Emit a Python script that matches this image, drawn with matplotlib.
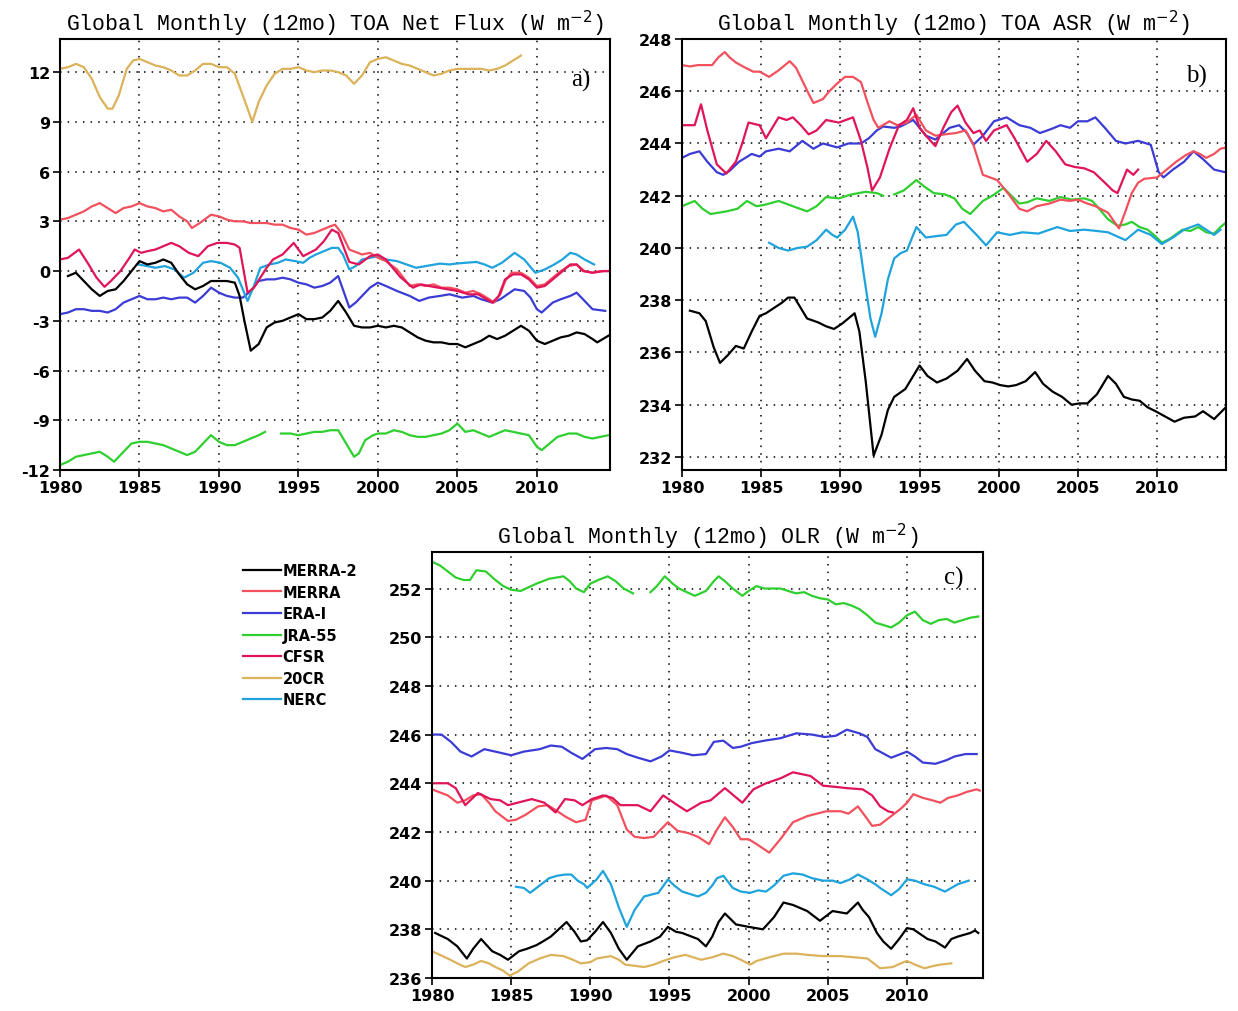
import matplotlib
matplotlib.use("Agg")
import matplotlib.pyplot as plt
import numpy as np

NAN = float("nan")

# ---------------- DATA (year, value) ----------------
# Panel a: TOA Net Flux
a_merra2 = [(1980.5,-0.3),(1981.0,-0.1),(1981.5,-0.6),(1982.0,-1.1),(1982.5,-1.5),(1983.0,-1.2),(1983.5,-1.1),(1984.0,-0.6),(1984.5,0.0),(1985.0,0.6),(1985.5,0.4),(1986.0,0.5),(1986.5,0.7),(1987.0,0.5),(1987.5,-0.2),(1988.0,-0.8),(1988.5,-1.1),(1989.0,-0.9),(1989.5,-0.6),(1990.0,-0.6),(1990.5,-0.6),(1991.0,-0.7),(1991.3,-1.5),(1991.6,-3.0),(1992.0,-4.8),(1992.5,-4.4),(1993.0,-3.4),(1993.5,-3.1),(1994.0,-3.0),(1994.5,-2.8),(1995.0,-2.6),(1995.5,-2.9),(1996.0,-2.9),(1996.5,-2.8),(1997.0,-2.4),(1997.5,-1.8),(1998.0,-2.5),(1998.5,-3.3),(1999.0,-3.4),(1999.5,-3.4),(2000.0,-3.3),(2000.5,-3.4),(2001.0,-3.3),(2001.5,-3.4),(2002.0,-3.7),(2002.5,-4.0),(2003.0,-4.2),(2003.5,-4.3),(2004.0,-4.3),(2004.5,-4.4),(2005.0,-4.4),(2005.5,-4.6),(2006.0,-4.4),(2006.5,-4.2),(2007.0,-3.9),(2007.5,-4.1),(2008.0,-3.9),(2008.5,-3.6),(2009.0,-3.3),(2009.5,-3.6),(2010.0,-4.2),(2010.5,-4.4),(2011.0,-4.2),(2011.5,-4.0),(2012.0,-3.9),(2012.5,-3.7),(2013.0,-3.8),(2013.5,-4.1),(2013.8,-4.3),(2014.5,-3.9)]
a_merra = [(1980.0,3.1),(1980.5,3.2),(1981.0,3.4),(1981.5,3.6),(1982.0,3.9),(1982.5,4.1),(1983.0,3.8),(1983.5,3.5),(1984.0,3.8),(1984.5,3.9),(1985.0,4.1),(1985.5,3.9),(1986.0,3.8),(1986.5,3.6),(1987.0,3.7),(1987.5,3.3),(1988.0,3.0),(1988.3,2.6),(1988.8,2.9),(1989.5,3.4),(1990.0,3.3),(1990.5,3.1),(1991.0,3.0),(1991.5,3.0),(1992.0,2.9),(1992.5,2.9),(1993.0,2.9),(1993.5,2.8),(1994.0,2.8),(1994.5,2.6),(1995.0,2.5),(1995.5,2.2),(1996.0,2.3),(1996.5,2.5),(1997.0,2.7),(1997.3,2.8),(1997.7,2.3),(1998.2,1.3),(1999.0,1.0),(1999.5,1.1),(2000.0,0.8),(2000.5,0.6),(2001.2,0.1),(2002.0,-0.9),(2002.5,-0.8),(2003.0,-0.9),(2003.5,-0.8),(2004.0,-1.0),(2004.5,-1.0),(2005.0,-1.1),(2005.5,-1.3),(2006.0,-1.2),(2006.5,-1.4),(2007.0,-1.7),(2007.3,-1.9),(2007.7,-1.4),(2008.0,-0.6),(2008.4,-0.1),(2009.0,-0.1),(2009.5,-0.4),(2010.0,-0.9),(2010.5,-0.8),(2011.0,-0.4),(2011.5,0.0),(2012.0,0.3),(2012.5,0.4),(2013.0,0.0),(2013.5,-0.1),(2014.0,0.0),(2014.5,0.0)]
a_erai = [(1980.0,-2.6),(1980.5,-2.5),(1981.0,-2.3),(1981.5,-2.3),(1982.0,-2.4),(1982.5,-2.4),(1983.0,-2.5),(1983.5,-2.3),(1984.0,-1.9),(1984.5,-1.7),(1985.0,-1.5),(1985.5,-1.7),(1986.0,-1.7),(1986.5,-1.6),(1987.0,-1.7),(1987.5,-1.6),(1988.0,-1.6),(1988.5,-1.9),(1989.0,-1.5),(1989.5,-1.0),(1990.0,-1.3),(1990.5,-1.5),(1991.0,-1.6),(1991.5,-1.6),(1992.0,-1.2),(1992.5,-0.6),(1993.0,-0.5),(1993.5,-0.5),(1994.0,-0.4),(1994.5,-0.5),(1995.0,-0.7),(1995.5,-0.8),(1996.0,-1.0),(1996.5,-0.9),(1997.0,-0.7),(1997.5,-0.3),(1998.2,-2.2),(1998.6,-1.9),(1999.5,-1.0),(2000.0,-0.7),(2000.5,-0.9),(2001.2,-1.2),(2002.0,-1.5),(2002.6,-1.8),(2003.2,-1.6),(2003.9,-1.5),(2004.5,-1.4),(2005.3,-1.6),(2006.0,-1.5),(2006.5,-1.7),(2007.2,-1.9),(2007.7,-1.7),(2008.6,-1.1),(2009.2,-1.2),(2009.6,-1.6),(2010.0,-2.3),(2010.3,-2.5),(2011.0,-1.9),(2011.5,-1.7),(2012.1,-1.5),(2012.5,-1.3),(2013.0,-1.8),(2013.5,-2.3),(2014.3,-2.4)]
a_jra55 = [(1980.0,-11.7),(1980.5,-11.5),(1981.0,-11.2),(1981.5,-11.1),(1982.0,-11.0),(1982.5,-10.9),(1983.0,-11.2),(1983.4,-11.5),(1984.0,-10.9),(1984.5,-10.4),(1985.0,-10.3),(1985.5,-10.3),(1986.0,-10.4),(1986.5,-10.5),(1987.0,-10.7),(1987.5,-10.9),(1988.0,-11.1),(1988.5,-10.9),(1989.0,-10.4),(1989.5,-9.9),(1990.0,-10.3),(1990.5,-10.5),(1991.0,-10.5),(1991.5,-10.3),(1992.0,-10.1),(1992.5,-9.9),(1992.9,-9.7),(1993.3,NAN),(1993.9,-9.8),(1994.5,-9.8),(1995.0,-9.9),(1995.5,-9.8),(1996.0,-9.7),(1996.5,-9.7),(1997.0,-9.6),(1997.5,-9.6),(1998.0,-10.4),(1998.5,-11.2),(1998.8,-11.0),(1999.2,-10.2),(1999.7,-9.9),(2000.0,-9.8),(2000.5,-9.8),(2001.0,-9.6),(2001.5,-9.7),(2002.0,-9.9),(2002.5,-10.0),(2003.0,-10.0),(2003.5,-9.9),(2004.0,-9.8),(2004.5,-9.6),(2005.0,-9.2),(2005.5,-9.7),(2006.0,-9.6),(2006.5,-9.8),(2007.0,-10.0),(2007.5,-9.8),(2008.0,-9.6),(2008.5,-9.7),(2009.0,-9.8),(2009.5,-9.9),(2010.0,-10.6),(2010.3,-10.8),(2010.8,-10.4),(2011.3,-10.0),(2012.0,-9.8),(2012.5,-9.8),(2013.0,-10.0),(2013.5,-10.1),(2014.0,-10.0),(2014.5,-9.9)]
a_cfsr = [(1980.0,0.7),(1980.5,0.8),(1981.2,1.3),(1981.8,0.4),(1982.3,-0.4),(1982.8,-0.95),(1983.2,-0.6),(1983.8,0.0),(1984.3,0.7),(1984.7,1.3),(1985.1,1.1),(1985.5,1.2),(1986.0,1.3),(1986.5,1.5),(1987.0,1.7),(1987.5,1.5),(1988.1,1.1),(1988.7,0.9),(1989.3,1.5),(1989.9,1.7),(1990.5,1.7),(1991.0,1.6),(1991.3,1.4),(1991.8,-1.3),(1992.2,-1.0),(1992.6,-0.4),(1993.0,0.2),(1993.4,0.7),(1994.0,1.0),(1994.7,1.7),(1995.3,0.9),(1996.1,1.3),(1996.6,1.8),(1997.1,2.5),(1997.5,2.3),(1998.2,0.55),(1998.8,0.4),(1999.5,0.9),(2000.0,1.0),(2000.5,0.7),(2001.4,-0.35),(2002.2,-1.0),(2002.7,-0.8),(2003.2,-0.9),(2003.8,-1.0),(2004.4,-1.1),(2005.0,-1.2),(2005.7,-1.4),(2006.3,-1.4),(2007.2,-1.9),(2007.6,-1.5),(2008.0,-0.5),(2008.5,-0.2),(2009.0,-0.2),(2009.5,-0.5),(2010.0,-1.0),(2010.5,-0.9),(2011.0,-0.5),(2011.5,-0.1),(2012.1,0.4),(2012.5,0.4),(2012.9,0.0),(2013.5,-0.1),(2014.2,0.0),(2014.5,0.0)]
a_20cr = [(1980.0,12.2),(1980.5,12.3),(1981.0,12.5),(1981.5,12.3),(1982.0,11.6),(1982.5,10.5),(1983.0,9.8),(1983.3,9.8),(1983.7,10.6),(1984.2,12.2),(1984.6,12.7),(1985.0,12.8),(1985.5,12.6),(1986.0,12.4),(1986.5,12.3),(1987.0,12.1),(1987.5,11.8),(1988.0,11.8),(1988.5,12.1),(1989.0,12.5),(1989.5,12.5),(1990.0,12.3),(1990.5,12.3),(1991.0,11.9),(1991.5,10.6),(1992.1,9.0),(1992.5,10.2),(1993.0,11.2),(1993.5,11.9),(1994.0,12.2),(1994.5,12.2),(1995.0,12.3),(1995.5,12.1),(1996.0,12.0),(1996.5,12.1),(1997.0,12.1),(1997.5,12.0),(1998.0,11.8),(1998.5,11.3),(1999.0,11.8),(1999.5,12.6),(2000.0,12.8),(2000.5,12.9),(2001.0,12.7),(2001.5,12.5),(2002.0,12.4),(2002.5,12.2),(2003.0,12.0),(2003.5,11.8),(2004.0,11.9),(2004.5,12.1),(2005.0,12.2),(2005.5,12.2),(2006.0,12.2),(2006.5,12.2),(2007.0,12.1),(2007.5,12.2),(2008.0,12.4),(2008.5,12.7),(2009.0,13.0)]
a_nerc = [(1984.9,0.4),(1985.5,0.3),(1986.0,0.2),(1986.6,0.3),(1987.2,0.1),(1987.8,-0.4),(1988.4,-0.1),(1989.0,0.5),(1989.5,0.6),(1990.1,0.5),(1990.7,0.2),(1991.2,-0.4),(1991.8,-1.8),(1992.2,-0.9),(1992.6,0.2),(1993.2,0.4),(1993.7,0.5),(1994.2,0.7),(1994.8,0.6),(1995.3,0.5),(1995.7,0.8),(1996.1,1.0),(1996.6,1.2),(1997.1,1.4),(1997.5,1.4),(1997.8,1.0),(1998.2,0.1),(1998.6,0.3),(1999.0,0.7),(1999.5,0.8),(2000.0,0.9),(2000.5,0.7),(2001.2,0.6),(2001.8,0.4),(2002.4,0.2),(2003.0,0.3),(2003.9,0.45),(2004.5,0.4),(2004.9,0.45),(2005.5,0.5),(2006.2,0.55),(2006.7,0.4),(2007.2,0.2),(2007.8,0.5),(2008.6,1.1),(2009.2,0.7),(2009.9,-0.1),(2010.5,0.1),(2011.1,0.4),(2011.6,0.7),(2012.1,1.1),(2012.5,1.0),(2013.0,0.7),(2013.6,0.4)]

# Panel b: TOA ASR
b_merra2 = [(1980.5,237.6),(1981.1,237.5),(1981.5,237.2),(1982.0,236.2),(1982.4,235.6),(1982.9,235.9),(1983.4,236.25),(1983.9,236.15),(1984.4,236.8),(1984.9,237.4),(1985.3,237.5),(1985.8,237.7),(1986.3,237.9),(1986.7,238.1),(1987.1,238.1),(1987.5,237.7),(1987.9,237.3),(1988.6,237.15),(1989.1,237.0),(1989.6,236.9),(1990.1,237.1),(1990.5,237.3),(1990.9,237.5),(1991.2,236.8),(1991.6,234.9),(1992.1,232.05),(1992.6,232.85),(1993.0,233.8),(1993.4,234.3),(1994.1,234.6),(1994.5,235.0),(1995.0,235.5),(1995.5,235.1),(1996.1,234.85),(1996.7,235.0),(1997.4,235.3),(1998.0,235.75),(1998.5,235.3),(1999.1,234.9),(1999.6,234.85),(2000.1,234.75),(2000.6,234.7),(2001.1,234.75),(2001.7,234.9),(2002.3,235.25),(2002.8,234.8),(2003.4,234.5),(2004.0,234.3),(2004.6,234.0),(2005.1,234.05),(2005.6,234.05),(2006.2,234.4),(2006.9,235.1),(2007.4,234.8),(2007.9,234.3),(2008.4,234.2),(2008.9,234.15),(2009.4,233.9),(2009.9,233.75),(2010.5,233.55),(2011.1,233.35),(2011.7,233.5),(2012.4,233.55),(2012.9,233.75),(2013.6,233.45),(2014.5,234.0)]
b_merra = [(1980.0,247.0),(1980.5,246.95),(1981.0,247.0),(1981.9,247.0),(1982.3,247.3),(1982.7,247.5),(1983.0,247.3),(1983.4,247.1),(1984.0,246.9),(1984.5,246.75),(1984.9,246.75),(1985.5,246.55),(1986.1,246.8),(1986.8,247.15),(1987.2,246.9),(1987.6,246.4),(1988.0,245.9),(1988.3,245.55),(1988.9,245.7),(1989.3,246.0),(1989.8,246.3),(1990.3,246.55),(1990.8,246.55),(1991.3,246.35),(1991.7,245.6),(1992.1,244.9),(1992.4,244.6),(1993.1,244.85),(1993.6,244.7),(1994.2,244.8),(1994.8,245.1),(1995.4,244.5),(1996.0,244.3),(1996.6,244.35),(1997.3,244.4),(1997.9,244.5),(1998.4,243.95),(1999.0,242.8),(1999.9,242.6),(2000.7,242.0),(2001.3,241.5),(2001.8,241.4),(2002.4,241.6),(2003.2,241.7),(2003.9,241.85),(2004.5,241.8),(2005.0,241.85),(2005.6,241.7),(2006.1,241.6),(2006.9,241.35),(2007.3,241.0),(2007.6,240.75),(2008.0,241.4),(2008.4,242.1),(2008.8,242.5),(2009.2,242.65),(2010.0,242.7),(2010.6,243.0),(2011.2,243.3),(2011.8,243.55),(2012.3,243.7),(2012.7,243.6),(2013.1,243.45),(2013.6,243.6),(2014.0,243.8),(2014.4,243.85)]
b_erai = [(1980.0,243.45),(1980.5,243.6),(1981.1,243.7),(1981.6,243.3),(1982.2,242.9),(1982.6,242.8),(1983.0,242.95),(1983.6,243.3),(1984.4,243.6),(1984.9,243.5),(1985.3,243.7),(1986.1,243.8),(1986.8,243.7),(1987.6,244.1),(1988.3,243.8),(1988.9,244.0),(1989.8,243.85),(1990.5,244.0),(1991.3,244.0),(1991.8,244.2),(1992.3,244.5),(1992.7,244.65),(1993.4,244.6),(1993.8,244.65),(1994.6,244.9),(1995.0,244.6),(1995.4,244.3),(1996.0,244.15),(1996.5,244.4),(1996.9,244.6),(1997.5,244.7),(1998.0,244.4),(1998.4,243.95),(1999.0,244.3),(1999.7,244.85),(2000.5,245.0),(2001.3,244.7),(2002.0,244.6),(2002.6,244.4),(2003.3,244.55),(2003.9,244.7),(2004.5,244.6),(2005.0,244.85),(2005.6,244.85),(2006.1,245.0),(2006.7,244.6),(2007.4,244.1),(2008.0,244.0),(2008.8,244.1),(2009.6,243.95),(2010.1,242.9),(2010.4,242.7),(2011.0,243.0),(2011.7,243.3),(2012.3,243.7),(2012.9,243.4),(2013.6,243.0),(2014.3,242.9)]
b_jra55 = [(1980.0,241.6),(1980.8,241.8),(1981.3,241.5),(1981.8,241.3),(1982.8,241.4),(1983.5,241.5),(1984.1,241.8),(1984.7,241.6),(1985.2,241.65),(1986.1,241.8),(1987.0,241.6),(1987.9,241.4),(1988.5,241.6),(1989.1,241.95),(1989.9,241.9),(1990.7,242.05),(1991.6,242.15),(1992.3,242.1),(1992.7,242.0),(1993.0,NAN),(1993.4,242.05),(1994.0,242.2),(1994.8,242.6),(1995.3,242.35),(1995.9,242.1),(1996.6,242.05),(1997.2,241.9),(1997.7,241.5),(1998.2,241.3),(1999.0,241.8),(1999.6,242.0),(2000.3,242.3),(2000.8,242.0),(2001.3,241.7),(2001.8,241.75),(2002.4,241.9),(2003.2,241.8),(2003.9,241.95),(2004.6,241.85),(2005.4,241.9),(2005.9,241.8),(2006.2,241.6),(2006.9,241.1),(2007.5,240.85),(2008.0,240.9),(2008.4,241.0),(2008.9,240.8),(2009.4,240.7),(2009.9,240.45),(2010.3,240.2),(2010.8,240.35),(2011.6,240.7),(2012.1,240.65),(2012.6,240.8),(2013.1,240.6),(2013.6,240.55),(2014.0,240.8),(2014.4,241.0)]
b_cfsr = [(1980.0,244.7),(1980.8,244.7),(1981.2,245.5),(1981.6,244.5),(1982.2,243.2),(1982.8,242.85),(1983.4,243.3),(1983.8,244.0),(1984.2,244.8),(1984.9,244.7),(1985.3,244.2),(1985.7,244.6),(1986.1,245.0),(1986.6,244.9),(1987.0,245.0),(1987.5,244.7),(1988.0,244.35),(1988.5,244.5),(1989.1,244.9),(1989.9,244.8),(1990.8,245.0),(1991.3,244.1),(1991.7,243.1),(1992.0,242.2),(1992.5,242.7),(1993.1,243.8),(1993.7,244.7),(1994.2,244.9),(1994.6,245.35),(1995.0,244.6),(1995.4,244.3),(1996.0,243.9),(1996.5,244.6),(1997.0,245.2),(1997.4,245.45),(1997.9,244.8),(1998.4,244.4),(1998.8,244.5),(1999.2,244.1),(1999.7,244.5),(2000.5,244.7),(2001.0,244.2),(2001.8,243.3),(2002.4,243.6),(2003.0,244.1),(2003.6,243.7),(2004.2,243.2),(2004.8,243.1),(2005.4,243.05),(2006.0,242.9),(2006.7,242.5),(2007.2,242.2),(2007.5,242.1),(2008.1,243.0),(2008.5,242.8),(2008.8,243.0)]
b_nerc = [(1985.5,240.2),(1986.1,240.0),(1986.7,239.9),(1987.3,240.0),(1987.9,240.05),(1988.5,240.3),(1989.1,240.7),(1989.5,240.5),(1989.8,240.4),(1990.3,240.7),(1990.8,241.2),(1991.1,240.6),(1991.5,238.9),(1991.9,237.3),(1992.2,236.6),(1992.6,237.5),(1993.0,238.8),(1993.4,239.6),(1993.8,239.8),(1994.2,239.9),(1994.8,240.8),(1995.4,240.4),(1996.0,240.45),(1996.7,240.5),(1997.3,240.9),(1997.8,241.0),(1998.6,240.5),(1999.2,240.1),(1999.9,240.6),(2000.7,240.5),(2001.5,240.6),(2002.5,240.55),(2003.7,240.8),(2004.5,240.65),(2005.4,240.7),(2006.2,240.65),(2006.9,240.6),(2008.0,240.3),(2008.8,240.7),(2009.6,240.5),(2010.3,240.15),(2011.0,240.4),(2011.7,240.7),(2012.6,240.9),(2013.1,240.7),(2013.6,240.5),(2014.0,240.7)]

# Panel c: OLR
c_merra2 = [(1980.2,237.85),(1981.0,237.6),(1981.6,237.3),(1982.2,236.8),(1982.6,237.2),(1983.1,237.6),(1983.8,237.1),(1984.3,236.95),(1984.8,236.75),(1985.5,237.1),(1986.0,237.2),(1986.6,237.35),(1987.0,237.5),(1987.5,237.7),(1988.0,238.0),(1988.5,238.3),(1989.0,237.9),(1989.4,237.5),(1989.8,237.55),(1990.3,237.9),(1990.8,238.3),(1991.3,237.85),(1991.8,237.2),(1992.3,236.75),(1993.0,237.3),(1993.8,237.5),(1994.4,237.7),(1994.9,238.1),(1995.4,237.9),(1995.8,237.85),(1996.4,237.7),(1996.8,237.6),(1997.3,237.3),(1997.7,237.7),(1998.1,238.3),(1998.5,238.65),(1999.2,238.2),(2000.0,238.1),(2000.9,238.0),(2001.6,238.5),(2002.2,239.1),(2002.8,239.0),(2003.7,238.75),(2004.5,238.35),(2005.3,238.75),(2006.2,238.65),(2006.9,239.1),(2007.2,238.8),(2007.6,238.5),(2008.1,237.85),(2008.5,237.5),(2009.0,237.2),(2009.5,237.6),(2010.0,238.05),(2010.4,238.0),(2011.3,237.6),(2011.8,237.5),(2012.4,237.25),(2012.8,237.6),(2013.2,237.7),(2014.0,237.85),(2014.3,237.95),(2014.5,237.85)]
c_merra = [(1980.0,243.75),(1981.0,243.5),(1981.6,243.2),(1982.1,243.3),(1982.6,243.5),(1983.1,243.55),(1983.6,243.2),(1984.0,242.85),(1984.8,242.45),(1985.3,242.5),(1985.9,242.7),(1986.7,243.05),(1987.3,243.1),(1987.8,242.9),(1988.5,242.6),(1989.1,242.4),(1989.7,242.5),(1990.1,243.3),(1990.6,243.4),(1991.0,243.5),(1991.7,243.1),(1992.3,242.1),(1992.8,241.8),(1993.4,241.75),(1994.0,241.8),(1994.9,242.4),(1995.5,242.05),(1996.2,241.95),(1996.8,241.8),(1997.5,241.5),(1998.0,242.1),(1998.5,242.6),(1999.0,242.2),(1999.5,241.7),(2000.0,241.7),(2000.5,241.5),(2001.3,241.15),(2002.0,241.7),(2002.8,242.4),(2003.7,242.65),(2004.3,242.75),(2004.9,242.85),(2005.8,242.85),(2006.3,242.75),(2006.9,243.05),(2007.3,242.7),(2007.8,242.25),(2008.3,242.3),(2009.1,242.7),(2009.6,242.95),(2010.0,243.2),(2010.4,243.55),(2011.0,243.4),(2011.6,243.3),(2012.1,243.2),(2012.6,243.4),(2013.2,243.5),(2013.8,243.65),(2014.4,243.75),(2014.6,243.7)]
c_erai = [(1980.0,246.0),(1980.6,246.0),(1981.2,245.7),(1981.8,245.3),(1982.5,245.1),(1983.3,245.4),(1984.0,245.3),(1985.0,245.15),(1985.8,245.3),(1986.8,245.4),(1987.5,245.55),(1988.2,245.5),(1988.8,245.25),(1989.5,245.0),(1990.3,245.4),(1991.0,245.45),(1991.7,245.4),(1992.3,245.2),(1993.0,245.05),(1993.8,244.9),(1994.5,245.1),(1995.0,245.35),(1995.8,245.25),(1996.5,245.15),(1997.3,245.2),(1997.8,245.7),(1998.4,245.75),(1999.0,245.45),(1999.5,245.5),(2000.2,245.65),(2001.0,245.75),(2002.0,245.85),(2003.0,246.05),(2004.0,246.0),(2004.8,245.9),(2005.5,245.95),(2006.2,246.2),(2007.0,246.05),(2007.5,245.9),(2008.0,245.4),(2009.0,245.05),(2010.0,245.3),(2010.5,245.1),(2011.0,244.85),(2011.8,244.8),(2012.5,244.95),(2013.0,245.1),(2013.7,245.2),(2014.4,245.2)]
c_jra55 = [(1980.0,253.1),(1980.5,252.95),(1981.0,252.7),(1981.5,252.45),(1982.0,252.35),(1982.4,252.35),(1982.8,252.75),(1983.4,252.7),(1984.0,252.35),(1984.5,252.1),(1985.0,251.95),(1985.6,251.9),(1986.1,252.05),(1986.6,252.2),(1987.4,252.4),(1988.3,252.5),(1988.7,252.3),(1989.1,252.0),(1989.6,251.85),(1990.0,252.2),(1990.5,252.35),(1991.1,252.5),(1991.6,252.3),(1992.1,252.0),(1992.7,251.8),(1993.2,NAN),(1993.8,251.85),(1994.2,252.1),(1994.7,252.5),(1995.2,252.2),(1995.6,252.0),(1996.6,251.7),(1997.3,251.9),(1997.8,252.3),(1998.1,252.5),(1998.5,252.3),(1999.0,252.0),(1999.6,251.7),(2000.0,251.9),(2000.5,252.1),(2001.0,252.0),(2002.0,252.0),(2002.5,251.9),(2003.0,251.8),(2003.5,251.85),(2004.0,251.7),(2004.5,251.6),(2005.0,251.55),(2005.5,251.35),(2006.0,251.4),(2006.5,251.3),(2007.0,251.15),(2007.5,250.9),(2008.0,250.6),(2008.5,250.5),(2009.0,250.4),(2009.5,250.6),(2010.0,250.9),(2010.5,251.05),(2011.0,250.7),(2011.5,250.55),(2012.0,250.7),(2012.5,250.75),(2013.0,250.6),(2013.5,250.7),(2014.0,250.8),(2014.5,250.85)]
c_cfsr = [(1980.0,244.0),(1981.0,244.0),(1981.5,243.8),(1982.1,243.1),(1982.9,243.6),(1983.7,243.35),(1984.3,243.3),(1984.8,243.1),(1985.4,243.2),(1986.3,243.35),(1987.1,243.2),(1987.8,242.8),(1988.4,243.35),(1989.0,243.3),(1989.5,243.1),(1990.1,243.35),(1990.8,243.5),(1991.4,243.4),(1991.9,243.1),(1993.0,243.1),(1993.8,242.85),(1994.6,243.5),(1995.5,243.1),(1996.1,242.85),(1997.0,243.2),(1997.6,243.3),(1998.5,243.8),(1999.6,243.2),(2000.3,243.75),(2001.1,244.0),(2002.0,244.2),(2002.8,244.45),(2003.9,244.3),(2004.7,243.9),(2005.5,243.85),(2006.2,243.8),(2007.2,243.75),(2007.8,243.5),(2008.3,243.05),(2008.8,242.85),(2009.1,242.8)]
c_20cr = [(1980.0,237.1),(1980.5,236.95),(1981.0,236.8),(1981.6,236.6),(1982.1,236.45),(1982.6,236.55),(1983.1,236.7),(1983.6,236.6),(1984.0,236.45),(1984.5,236.3),(1984.9,236.1),(1985.4,236.25),(1986.1,236.6),(1986.8,236.8),(1987.5,236.95),(1988.3,236.9),(1988.9,236.75),(1989.4,236.6),(1990.0,236.65),(1990.4,236.8),(1991.3,236.9),(1991.8,236.75),(1992.2,236.55),(1992.8,236.5),(1993.4,236.45),(1994.0,236.55),(1994.6,236.7),(1995.3,236.85),(1996.0,236.95),(1996.5,236.85),(1997.0,236.75),(1997.7,236.85),(1998.4,237.0),(1999.0,236.9),(1999.5,236.75),(2000.1,236.55),(2000.5,236.7),(2001.3,236.85),(2002.2,237.0),(2003.0,237.0),(2003.7,236.95),(2004.7,236.9),(2005.8,236.9),(2006.7,236.85),(2007.5,236.8),(2007.9,236.6),(2008.3,236.4),(2009.1,236.45),(2009.6,236.6),(2010.0,236.7),(2010.5,236.55),(2011.1,236.4),(2011.7,236.5),(2012.1,236.55),(2012.8,236.6)]
c_nerc = [(1985.3,239.75),(1985.8,239.7),(1986.2,239.5),(1986.9,239.85),(1987.4,240.1),(1987.9,240.2),(1988.4,240.25),(1988.8,240.25),(1989.2,240.0),(1989.6,239.85),(1989.8,239.7),(1990.4,240.05),(1990.8,240.4),(1991.3,239.85),(1991.8,238.9),(1992.3,238.1),(1992.8,238.8),(1993.4,239.35),(1994.3,239.5),(1994.9,240.05),(1995.3,239.8),(1995.8,239.55),(1996.3,239.45),(1996.8,239.35),(1997.3,239.5),(1997.7,239.8),(1998.0,240.1),(1998.4,240.2),(1999.0,239.7),(1999.5,239.55),(2000.1,239.5),(2000.6,239.6),(2001.1,239.55),(2001.6,239.8),(2002.2,240.2),(2002.8,240.3),(2003.4,240.25),(2004.0,240.1),(2004.7,240.0),(2005.3,240.0),(2005.8,239.9),(2006.4,240.05),(2006.9,240.25),(2007.5,240.05),(2008.0,239.85),(2008.3,239.7),(2009.0,239.4),(2009.5,239.65),(2010.0,240.05),(2010.5,240.0),(2011.1,239.85),(2011.7,239.75),(2012.4,239.55),(2012.8,239.7),(2013.2,239.85),(2013.9,240.0)]

names = ["MERRA-2", "MERRA", "ERA-I", "JRA-55", "CFSR", "20CR", "NERC"]
colors = {"MERRA-2": "#000000", "MERRA": "#f3505e", "ERA-I": "#3b3bd6",
          "JRA-55": "#2fcf2f", "CFSR": "#e01458", "20CR": "#dcb25a", "NERC": "#1ea3dc"}

titles = ["Global Monthly (12mo) TOA Net Flux (W m$^{-2}$)",
          "Global Monthly (12mo) TOA ASR (W m$^{-2}$)",
          "Global Monthly (12mo) OLR (W m$^{-2}$)"]
yticks_a = [-12, -9, -6, -3, 0, 3, 6, 9, 12]
yticks_b = [232, 234, 236, 238, 240, 242, 244, 246, 248]
yticks_c = [236, 238, 240, 242, 244, 246, 248, 250, 252]
xticks = [1980, 1985, 1990, 1995, 2000, 2005, 2010]

panel_a = {"20CR": a_20cr, "JRA-55": a_jra55, "ERA-I": a_erai, "NERC": a_nerc,
           "MERRA": a_merra, "CFSR": a_cfsr, "MERRA-2": a_merra2}
panel_b = {"JRA-55": b_jra55, "ERA-I": b_erai, "NERC": b_nerc,
           "MERRA": b_merra, "CFSR": b_cfsr, "MERRA-2": b_merra2}
panel_c = {"20CR": c_20cr, "JRA-55": c_jra55, "ERA-I": c_erai, "NERC": c_nerc,
           "MERRA": c_merra, "CFSR": c_cfsr, "MERRA-2": c_merra2}

# ---------------- FIGURE ----------------
W, H = 1238, 1012
fig = plt.figure(figsize=(W / 100, H / 100), dpi=100)
fig.patch.set_facecolor("white")


def add_axes(l, r, t, b):
    return fig.add_axes([l / W, 1 - b / H, (r - l) / W, (b - t) / H])


axA = add_axes(60, 610, 40, 471)
axB = add_axes(682, 1226, 40, 471)
axC = add_axes(432, 983, 553, 979)

setup = [
    (axA, panel_a, titles[0], yticks_a, (-12, 14), (1980, 2014.6), "a)", 0.905),
    (axB, panel_b, titles[1], yticks_b, (231.5, 248), (1980, 2014.35), "b)", 0.915),
    (axC, panel_c, titles[2], yticks_c, (236, 253.5), (1980, 2014.8), "c)", 0.94),
]

handles = {}
for ax, data, title, yt, ylim, xlim, lab, laby in setup:
    for name, pts in data.items():
        arr = np.array(pts, dtype=float)
        ln, = ax.plot(arr[:, 0], arr[:, 1], color=colors[name], lw=1.6,
                      solid_joinstyle="round", zorder=3)
        handles[name] = ln
    ax.set_xlim(*xlim)
    ax.set_ylim(*ylim)
    ax.set_xticks(xticks)
    ax.set_yticks(yt)
    ax.set_xticklabels([str(v) for v in xticks])
    ax.set_yticklabels([str(v) for v in yt])
    for t in ax.get_xticklabels() + ax.get_yticklabels():
        t.set_fontfamily("DejaVu Sans")
        t.set_fontweight("bold")
        t.set_fontsize(11.5)
    ax.tick_params(direction="out", length=5, width=1.2, pad=2, color="black")
    ax.grid(True, color="black", linestyle=(0, (1, 4)), linewidth=1.1, zorder=1)
    for s in ax.spines.values():
        s.set_linewidth(1.5)
        s.set_zorder(5)
    ax.set_title(title, fontfamily="Liberation Mono", fontsize=15.5, pad=6)
    ax.text(0.965, laby, lab, transform=ax.transAxes,
            ha="right", va="center", fontfamily="Liberation Serif", fontsize=18,
            zorder=6)

leg_handles = [handles[n] for n in names]
leg = fig.legend(leg_handles, names, loc="upper left",
                 bbox_to_anchor=(243 / W, 1 - 564 / H), frameon=False,
                 handlelength=2.6, handletextpad=0.1, labelspacing=0.45,
                 borderpad=0, borderaxespad=0,
                 prop={"family": "DejaVu Sans", "weight": "bold", "size": 10.5})

fig.savefig("out.png", dpi=100, facecolor="white")
